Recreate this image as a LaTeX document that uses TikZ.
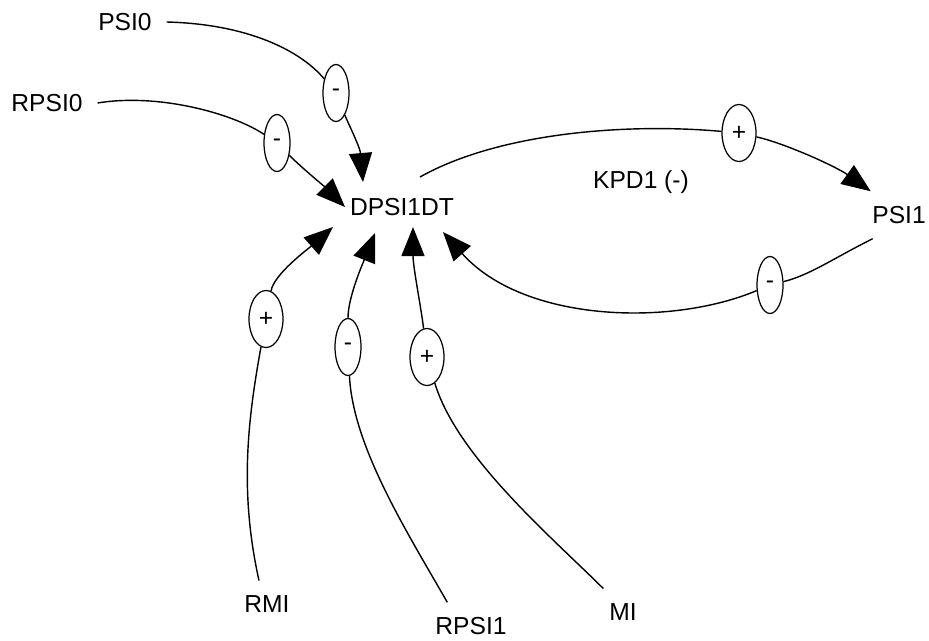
\documentclass[tikz,border=0pt]{standalone}
\usepackage{fontspec}
\setmainfont{Liberation Sans}
\usetikzlibrary{arrows.meta,shapes.geometric}
\begin{document}
\begin{tikzpicture}[x=0.02cm,y=-0.02cm,line width=0.8pt,>={Triangle[length=0.58cm,width=0.46cm]},
  every node/.style={font=\fontsize{14}{16}\selectfont},
  lbl/.style={inner sep=0,outer sep=0.3cm},
  decr/.style={draw,ellipse,inner sep=0,line width=0.7pt,minimum width=0.52cm,minimum height=1.14cm},
  incr/.style={decr,minimum width=0.68cm}]
\useasboundingbox (0,0) rectangle (929,640);
\node (psi0) [lbl] at (125,22) {PSI0};
\node (rpsi0) [lbl] at (47,103) {RPSI0};
\node (dpsi) [lbl] at (402,207) {DPSI1DT};
\node (kpd) [anchor=base] at (641,188) {KPD1 (-)};
\node (psi1) [lbl] at (899,215) {PSI1};
\node (rmi) [lbl] at (267,604) {RMI};
\node (rpsi1) [lbl] at (471,626) {RPSI1};
\node (mi) [lbl] at (623,612) {MI};

\node (s1) [decr] at (336,93) {-};
\node (s2) [decr] at (277,143) {-};
\node (s3) [incr] at (739,133) {+};
\node (s4) [decr] at (770,285) {-};
\node (s5) [incr] at (266,319) {+};
\node (s6) [decr] at (348,347) {-};
\node (s7) [incr] at (427,357) {+};

\draw (psi0.east) .. controls +(80,2) and +(-36,-43) .. (s1);
\draw [->] (s1) .. controls +(12,30) and +(-3,-35) .. ([shift={(-39,-25)}]dpsi.center);
\draw (rpsi0.east) .. controls +(60,-10) and +(-45,-30) .. (s2);
\draw [->] (s2) .. controls +(25,25) and +(-20,-20) .. ([shift={(-57,0)}]dpsi.center);
\draw ([shift={(18,-30)}]dpsi.center) .. controls +(80,-45) and +(-110,-10) .. (s3);
\draw [->] (s3) .. controls +(45,10) and +(-35,-25) .. (psi1.140);
\draw (psi1.222) .. controls +(-40,20) and +(40,-10) .. (s4);
\draw [->] (s4) .. controls +(-100,42) and +(80,90) .. ([shift={(41,25)}]dpsi.center);
\draw ([xshift=-0.16cm]rmi.north) .. controls +(-20,-90) and +(-18,100) .. (s5);
\draw [->] (s5) .. controls +(8,-45) and +(-25,22) .. ([shift={(-69,20)}]dpsi.center);
\draw (rpsi1.135) .. controls +(-40,-70) and +(5,100) .. (s6);
\draw [->] (s6) .. controls +(0,-50) and +(-12,30) .. ([shift={(-27,26)}]dpsi.center);
\draw (mi.130) .. controls +(-50,-50) and +(30,100) .. (s7);
\draw [->] (s7) .. controls +(-6,-50) and +(0,40) .. ([shift={(11,20)}]dpsi.center);
\end{tikzpicture}
\end{document}
